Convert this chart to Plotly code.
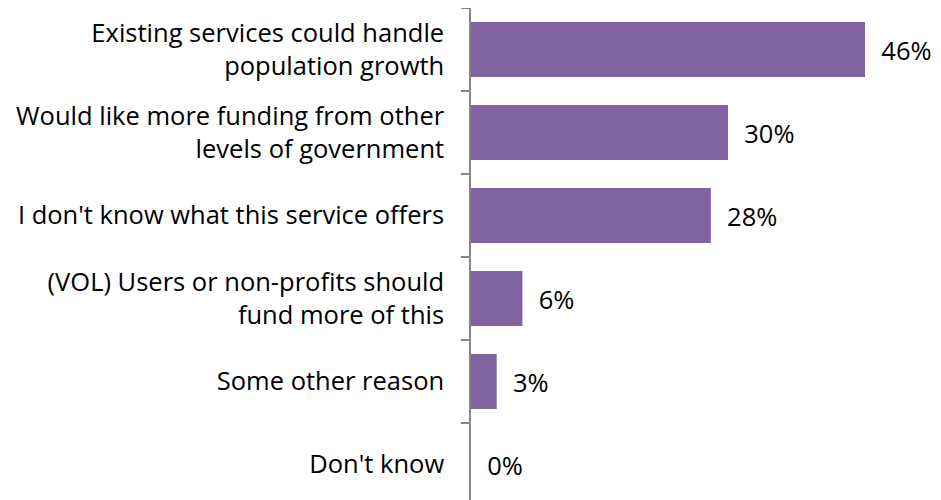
import plotly.graph_objects as go

categories = [
    "Existing services could handle<br>population growth",
    "Would like more funding from other<br>levels of government",
    "I don't know what this service offers",
    "(VOL) Users or non-profits should<br>fund more of this",
    "Some other reason",
    "Don't know",
]
values = [46, 30, 28, 6, 3, 0]
labels = ["46%", "30%", "28%", "6%", "3%", "0%"]

pad = "\u00a0\u00a0"
fig = go.Figure(go.Bar(
    y=categories, x=values, orientation="h",
    marker=dict(color="#8064A2", line=dict(width=0)),
    text=[pad + t for t in labels], textposition="outside", cliponaxis=False,
    textfont=dict(size=25.5, color="#000000", family="Open Sans"),
))
fig.update_layout(
    width=941, height=500,
    margin=dict(l=463, r=0, t=0, b=0, autoexpand=False),
    paper_bgcolor="white", plot_bgcolor="white",
    bargap=0.337, showlegend=False,
    font=dict(family="Open Sans", size=25.5, color="#000000"),
)
fig.update_xaxes(range=[0, 55.8], visible=False, automargin=False)
fig.update_yaxes(
    type="category", categoryorder="array", categoryarray=categories,
    range=[5.524, -0.5], autorange=False, automargin=False,
    showline=True, linecolor="#868686", linewidth=1.5,
    ticks="outside", tickson="boundaries", ticklen=8, tickcolor="#868686", tickwidth=1.5,
    ticklabelstandoff=20, showgrid=False, zeroline=False,
    tickfont=dict(size=25.5, family="Open Sans", color="#000000"),
)
fig.write_html("out.html")
